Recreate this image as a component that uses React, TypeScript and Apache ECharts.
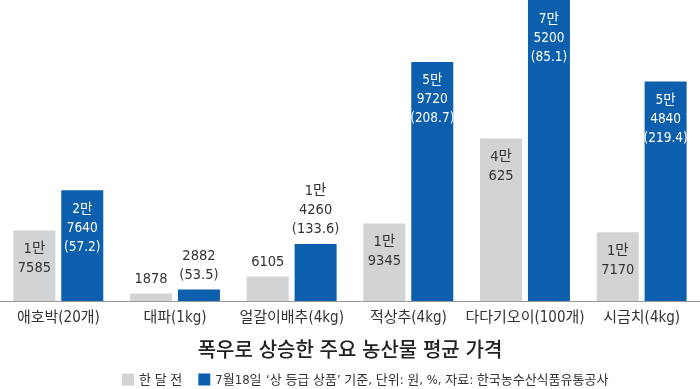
import React, { useEffect, useRef } from "react";
import * as echarts from "echarts";

const categories = ["애호박(20개)", "대파(1kg)", "얼갈이배추(4kg)", "적상추(4kg)", "다다기오이(100개)", "시금치(4kg)"];
const monthAgo = [17585, 1878, 6105, 19345, 40625, 17170];
const july18 = [27640, 2882, 14260, 59720, 75200, 54840];
const changePct = ["57.2", "53.5", "133.6", "208.7", "85.1", "219.4"];
const seriesNames = ["한 달 전", "7월18일"];
const titleText = "폭우로 상승한 주요 농산물 평균 가격";
const noteText = "‘상 등급 상품’ 기준, 단위: 원, %, 자료: 한국농수산식품유통공사";

const FONT = "'DejaVu Sans Condensed', 'Noto Sans CJK KR', sans-serif";
const GRAY = "#d2d3d5";
const BLUE = "#0b5fad";

function fmtWon(v: number): string {
  if (v >= 10000) {
    return Math.floor(v / 10000) + "만\n" + (v % 10000);
  }
  return String(v);
}

export default function App() {
  const ref = useRef<HTMLDivElement>(null);
  useEffect(() => {
    if (!ref.current) return;
    const chart = echarts.init(ref.current, null, { renderer: "svg" });
    const outside = (v: number) => v < 15000;
    const grayData = monthAgo.map((v) => ({
      value: v,
      label: {
        position: outside(v) ? "top" : "insideTop",
        distance: outside(v) ? 6 : 8,
        color: "#333",
      },
    }));
    const blueData = july18.map((v) => ({
      value: v,
      label: {
        position: outside(v) ? "top" : "insideTop",
        distance: outside(v) ? 6 : 8,
        color: outside(v) ? "#333" : "#fff",
        fontSize: outside(v) ? 14.5 : 13.5,
      },
    }));
    chart.setOption({
      animation: false,
      textStyle: { fontFamily: FONT },
      grid: { left: 0, right: 0, top: 0, bottom: 88, containLabel: false },
      legend: {
        left: 122,
        top: 373,
        padding: 0,
        itemWidth: 12,
        itemHeight: 12,
        itemGap: 16,
        icon: "rect",
        textStyle: { fontFamily: FONT, fontSize: 13, color: "#333" },
        data: seriesNames,
      },
      xAxis: {
        type: "category",
        data: categories,
        axisLine: { lineStyle: { color: "#999", width: 1 } },
        axisTick: { show: false },
        axisLabel: { interval: 0, fontFamily: FONT, fontSize: 15, color: "#333", margin: 8 },
      },
      yAxis: {
        type: "value",
        min: 0,
        max: 75200,
        show: false,
        splitLine: { show: false },
      },
      series: [
        {
          name: seriesNames[0],
          type: "bar",
          data: grayData,
          barWidth: 42,
          barGap: "14%",
          itemStyle: { color: GRAY },
          label: {
            show: true,
            fontFamily: FONT,
            fontSize: 14.5,
            lineHeight: 19,
            formatter: (p: any) => fmtWon(p.value),
          },
        },
        {
          name: seriesNames[1],
          type: "bar",
          data: blueData,
          barWidth: 42,
          itemStyle: { color: BLUE },
          label: {
            show: true,
            fontFamily: FONT,
            lineHeight: 19,
            formatter: (p: any) => fmtWon(p.value) + "\n(" + changePct[p.dataIndex] + ")",
          },
        },
      ],
      graphic: [
        {
          type: "text",
          left: "center",
          top: 340,
          style: { text: titleText, fontFamily: FONT, fontSize: 20, fontWeight: 500, fill: "#222" },
        },
        {
          type: "text",
          left: 266,
          top: 373,
          style: { text: noteText, fontFamily: FONT, fontSize: 13, fill: "#333" },
        },
      ],
    });
    return () => chart.dispose();
  }, []);
  return <div ref={ref} style={{ position: "fixed", left: 0, top: 0, width: 700, height: 389 }} />;
}
